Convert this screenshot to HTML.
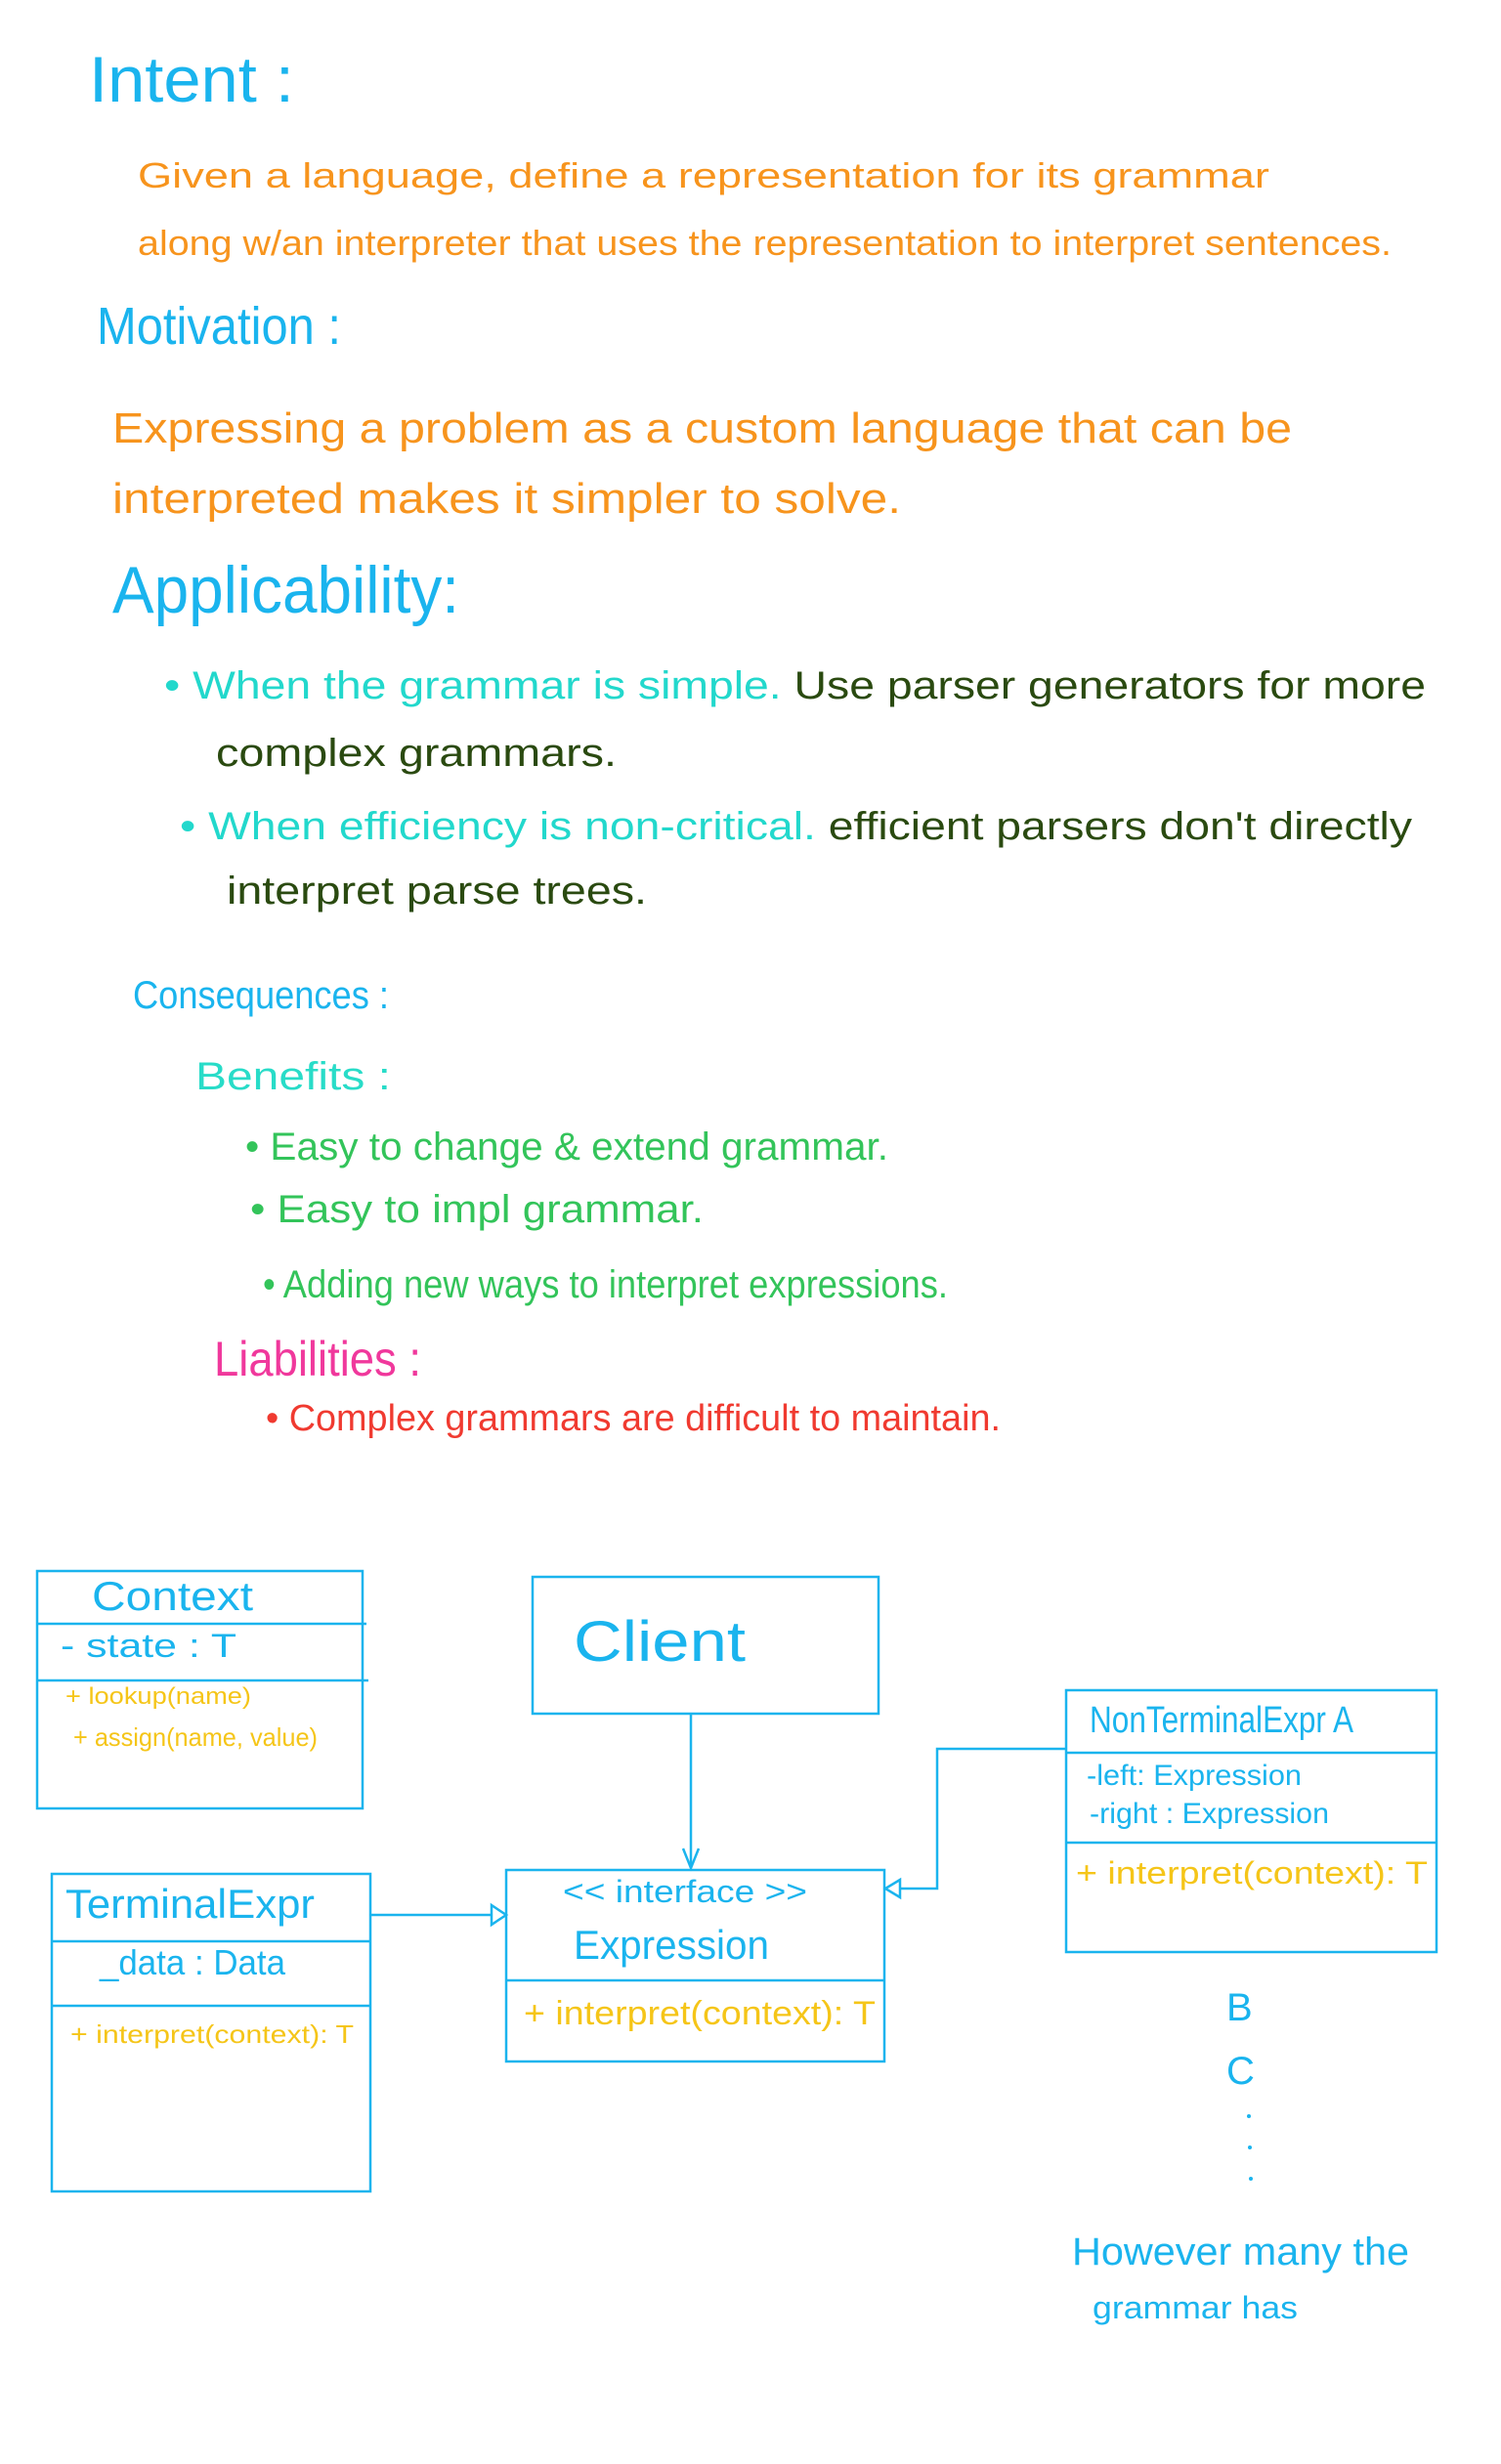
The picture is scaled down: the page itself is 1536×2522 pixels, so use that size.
<!DOCTYPE html>
<html><head><meta charset="utf-8"><style>
html,body{margin:0;padding:0;background:#fff;}
svg{display:block;}
text{font-family:"Liberation Sans Narrow","Liberation Sans",sans-serif;}
</style></head><body>
<svg width="1536" height="2522" viewBox="0 0 1536 2522" xmlns="http://www.w3.org/2000/svg">
<g>
<text x="91" y="104" font-size="66" fill="#1ab4ee" textLength="210" lengthAdjust="spacingAndGlyphs">Intent :</text>
<text x="141" y="192" font-size="36" fill="#f7941d" textLength="1158" lengthAdjust="spacingAndGlyphs">Given a language, define a representation for its grammar</text>
<text x="141" y="261" font-size="36" fill="#f7941d" textLength="1283" lengthAdjust="spacingAndGlyphs">along w/an interpreter that uses the representation to interpret sentences.</text>
<text x="99" y="352" font-size="54" fill="#1ab4ee" textLength="250" lengthAdjust="spacingAndGlyphs">Motivation :</text>
<text x="115" y="453" font-size="44" fill="#f7941d" textLength="1207" lengthAdjust="spacingAndGlyphs">Expressing a problem as a custom language that can be</text>
<text x="115" y="525" font-size="44" fill="#f7941d" textLength="807" lengthAdjust="spacingAndGlyphs">interpreted makes it simpler to solve.</text>
<text x="115" y="627" font-size="68" fill="#1ab4ee" textLength="355" lengthAdjust="spacingAndGlyphs">Applicability:</text>
<text x="168" y="715" font-size="40" textLength="1291" lengthAdjust="spacingAndGlyphs"><tspan fill="#22d8cc">• When the grammar is simple.</tspan><tspan fill="#2a4a10"> Use parser generators for more</tspan></text>
<text x="221" y="784" font-size="40" fill="#2a4a10" textLength="410" lengthAdjust="spacingAndGlyphs">complex grammars.</text>
<text x="184" y="859" font-size="40" textLength="1261" lengthAdjust="spacingAndGlyphs"><tspan fill="#22d8cc">• When efficiency is non-critical.</tspan><tspan fill="#2a4a10"> efficient parsers don't directly</tspan></text>
<text x="232" y="925" font-size="40" fill="#2a4a10" textLength="430" lengthAdjust="spacingAndGlyphs">interpret parse trees.</text>
<text x="136" y="1032" font-size="40" fill="#1ab4ee" textLength="262" lengthAdjust="spacingAndGlyphs">Consequences :</text>
<text x="200" y="1115" font-size="40" fill="#28dcc8" textLength="200" lengthAdjust="spacingAndGlyphs">Benefits :</text>
<text x="251" y="1187" font-size="40" fill="#33c45a" textLength="658" lengthAdjust="spacingAndGlyphs">• Easy to change &amp; extend grammar.</text>
<text x="256" y="1251" font-size="40" fill="#33c45a" textLength="464" lengthAdjust="spacingAndGlyphs">• Easy to impl grammar.</text>
<text x="269" y="1328" font-size="40" fill="#33c45a" textLength="701" lengthAdjust="spacingAndGlyphs">• Adding new ways to interpret expressions.</text>
<text x="219" y="1408" font-size="50" fill="#f0389c" textLength="212" lengthAdjust="spacingAndGlyphs">Liabilities :</text>
<text x="272" y="1464" font-size="38" fill="#f03a30" textLength="752" lengthAdjust="spacingAndGlyphs">• Complex grammars are difficult to maintain.</text>
</g>

<g transform="translate(3,8)">
<g fill="none" stroke="#1ab4ee" stroke-width="2.5">
<rect x="35" y="1600" width="333" height="243"/>
<line x1="35" y1="1654" x2="372" y2="1654"/>
<line x1="35" y1="1712" x2="374" y2="1712"/>
<rect x="542" y="1606" width="354" height="140"/>
<rect x="1088" y="1722" width="379" height="268"/>
<line x1="1088" y1="1786" x2="1467" y2="1786"/>
<line x1="1088" y1="1878" x2="1467" y2="1878"/>
<rect x="50" y="1910" width="326" height="325"/>
<line x1="50" y1="1979" x2="376" y2="1979"/>
<line x1="50" y1="2045" x2="376" y2="2045"/>
<rect x="515" y="1906" width="387" height="196"/>
<line x1="515" y1="2019" x2="902" y2="2019"/>
<line x1="704" y1="1746" x2="704" y2="1904"/>
<polyline points="696,1884 704,1904 712,1884"/>
<line x1="376" y1="1952" x2="500" y2="1952"/>
<polygon points="500,1942 515,1952 500,1962"/>
<polyline points="1088,1782 956,1782 956,1925 918,1925"/>
<polygon points="918,1916 903,1925 918,1934"/>
</g>

<g>
<text x="91" y="1640" font-size="42" fill="#1ab4ee" textLength="165" lengthAdjust="spacingAndGlyphs">Context</text>
<text x="59" y="1688" font-size="34" fill="#1ab4ee" textLength="180" lengthAdjust="spacingAndGlyphs">- state : T</text>
<text x="64" y="1736" font-size="24" fill="#f5c518" textLength="190" lengthAdjust="spacingAndGlyphs">+ lookup(name)</text>
<text x="72" y="1779" font-size="26" fill="#f5c518" textLength="250" lengthAdjust="spacingAndGlyphs">+ assign(name, value)</text>
<text x="584" y="1692" font-size="58" fill="#1ab4ee" textLength="176" lengthAdjust="spacingAndGlyphs">Client</text>
<text x="1112" y="1765" font-size="38" fill="#1ab4ee" textLength="270" lengthAdjust="spacingAndGlyphs">NonTerminalExpr A</text>
<text x="1109" y="1819" font-size="30" fill="#1ab4ee" textLength="220" lengthAdjust="spacingAndGlyphs">-left: Expression</text>
<text x="1112" y="1858" font-size="30" fill="#1ab4ee" textLength="245" lengthAdjust="spacingAndGlyphs">-right : Expression</text>
<text x="1098" y="1920" font-size="32" fill="#f5c518" textLength="360" lengthAdjust="spacingAndGlyphs">+ interpret(context): T</text>
<text x="64" y="1955" font-size="42" fill="#1ab4ee" textLength="255" lengthAdjust="spacingAndGlyphs">TerminalExpr</text>
<text x="99" y="2013" font-size="36" fill="#1ab4ee" textLength="190" lengthAdjust="spacingAndGlyphs">_data : Data</text>
<text x="69" y="2083" font-size="26" fill="#f5c518" textLength="290" lengthAdjust="spacingAndGlyphs">+ interpret(context): T</text>
<text x="573" y="1939" font-size="32" fill="#1ab4ee" textLength="250" lengthAdjust="spacingAndGlyphs">&lt;&lt; interface &gt;&gt;</text>
<text x="584" y="1997" font-size="42" fill="#1ab4ee" textLength="200" lengthAdjust="spacingAndGlyphs">Expression</text>
<text x="533" y="2064" font-size="34" fill="#f5c518" textLength="360" lengthAdjust="spacingAndGlyphs">+ interpret(context): T</text>
<text x="1252" y="2060" font-size="40" fill="#1ab4ee">B</text>
<text x="1252" y="2125" font-size="40" fill="#1ab4ee">C</text>
<circle cx="1275" cy="2158" r="2" fill="#1ab4ee"/>
<circle cx="1276" cy="2190" r="2" fill="#1ab4ee"/>
<circle cx="1277" cy="2222" r="2" fill="#1ab4ee"/>
<text x="1094" y="2310" font-size="40" fill="#1ab4ee" textLength="345" lengthAdjust="spacingAndGlyphs">However many the</text>
<text x="1115" y="2365" font-size="32" fill="#1ab4ee" textLength="210" lengthAdjust="spacingAndGlyphs">grammar has</text>
</g>
</g>
</svg>
</body></html>
